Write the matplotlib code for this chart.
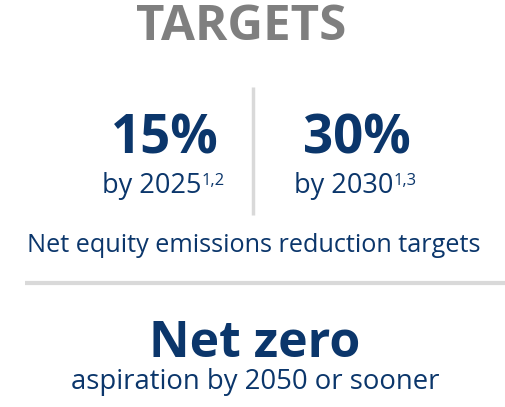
import matplotlib
matplotlib.use("Agg")
import matplotlib.pyplot as plt

plt.rcParams['font.family'] = ['Open Sans', 'DejaVu Sans']

title = "TARGETS"
values = ["15%", "30%"]
years = ["by 2025", "by 2030"]
notes = ["1,2", "1,3"]
caption = "Net equity emissions reduction targets"
headline = "Net zero"
subline = "aspiration by 2050 or sooner"

navy = "#0B366B"
grey = "#7F7F7F"
rule = "#D9D9D9"

W, H = 505, 407
fig = plt.figure(figsize=(W / 100, H / 100), dpi=100)
ax = fig.add_axes([0, 0, 1, 1])
ax.set_xlim(0, W)
ax.set_ylim(H, 0)
ax.axis("off")

ax.text(241, 40, title, ha="center", va="baseline", fontsize=35.5,
        fontweight="bold", color=grey)

centers = [165, 357]
year_right = [201, 393]
for i in range(2):
    ax.text(centers[i], 153, values[i], ha="center", va="baseline",
            fontsize=38, fontweight="bold", color=navy)
    ax.text(year_right[i], 193, years[i], ha="right", va="baseline",
            fontsize=19.5, color=navy)
    ax.text(year_right[i] + 1, 185, notes[i], ha="left", va="baseline",
            fontsize=12, color=navy)

ax.plot([253, 253], [87, 215], color=rule, lw=2.5, solid_capstyle="butt")
ax.text(254, 252, caption, ha="center", va="baseline", fontsize=18.2, color=navy)
ax.plot([25, 505], [283, 283], color=rule, lw=3, solid_capstyle="butt")
ax.text(255, 357, headline, ha="center", va="baseline", fontsize=36,
        fontweight="bold", color=navy)
ax.text(255, 389, subline, ha="center", va="baseline", fontsize=19.8, color=navy)

fig.savefig("out.png", dpi=100)
